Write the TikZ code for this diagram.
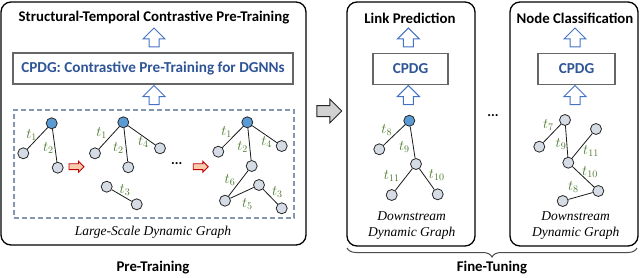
\documentclass[tikz,border=0pt]{standalone}
\usepackage{fontspec}
\setmainfont{Liberation Serif}
\setsansfont{Carlito}
\usetikzlibrary{shapes.arrows, positioning, decorations.pathreplacing}

\definecolor{nodeblue}{HTML}{5B9BD5}
\definecolor{nodegray}{HTML}{D6DCE5}
\definecolor{labgreen}{HTML}{4A7A2C}
\definecolor{cpdgblue}{HTML}{2F5597}
\definecolor{arrowblue}{HTML}{4472C4}
\definecolor{dashblue}{HTML}{8497B0}
\definecolor{redfill}{HTML}{F8CBAD}
\definecolor{redline}{HTML}{C00000}

\tikzset{
  panel/.style={draw=black, line width=1.3pt, rounded corners=10pt},
  model/.style={draw=black!60, line width=1.1pt, minimum height=31pt,
                font=\fontsize{15.2}{16}\selectfont\sffamily\bfseries, text=cpdgblue},
  heading/.style={font=\fontsize{14.8}{16}\selectfont\sffamily\bfseries},
  caption/.style={font=\fontsize{13.5}{16}\selectfont\itshape, align=center},
  dashbox/.style={draw=dashblue, line width=1.1pt, dash pattern=on 5pt off 3pt},
  uparrow/.style={single arrow, draw=arrowblue, fill=white, line width=1pt,
                  shape border rotate=90, inner sep=4.5pt,
                  single arrow head extend=6pt, minimum height=19pt},
  redarrow/.style={single arrow, draw=redline, fill=redfill, line width=0.9pt,
                   inner sep=2.5pt, single arrow head extend=2.5pt, minimum height=15pt},
  grayarrow/.style={single arrow, draw=black!85, fill=black!18, line width=1pt,
                    inner sep=5pt, single arrow head extend=6.5pt, minimum height=25pt},
  vtx/.style={circle, draw=black!85, fill=nodegray, line width=0.8pt,
              minimum size=11pt, inner sep=0pt},
  root/.style={vtx, fill=nodeblue},
  edge/.style={draw=black!90, line width=0.8pt},
  tlab/.style={text=labgreen, font=\fontsize{14}{14}\selectfont, inner sep=0pt},
  dots/.style={font=\fontsize{14}{14}\selectfont\sffamily\bfseries},
  brace/.style={decorate, decoration={brace, mirror, amplitude=9pt, aspect=0.5},
                draw=black!70, line width=1pt}
}

\begin{document}
\begin{tikzpicture}[x=1pt, y=-1pt]
  \useasboundingbox (0,0) rectangle (640,278);

  % pre-training panel
  \node[panel, minimum width=305pt, minimum height=243pt] (pt) at (153.5,123.5) {};
  \node[heading] (pttitle) at (154,18) {Structural-Temporal Contrastive Pre-Training};
  \node[uparrow] (pta1) at (154,40) {};
  \node[model, minimum width=280pt] (ptmodel) at (153,68.5) {CPDG: Contrastive Pre-Training for DGNNs};
  \node[uparrow] (pta2) at (154,97.5) {};
  \node[dashbox, minimum width=280pt, minimum height=108pt] (dyn) at (154,164) {};
  \node[caption] (dyncap) at (153,232) {Large-Scale Dynamic Graph};
  \node[heading] (ptlab) at (153,268) {Pre-Training};

  % snapshot 1
  \node[root] (a1) at (51.7,123.3) {};
  \node[vtx] (a2) at (23.3,153.3) {};
  \node[vtx] (a3) at (57.7,167.7) {};
  \draw[edge] (a1) -- (a2);
  \draw[edge] (a1) -- (a3);
  \node[tlab] (la1) at (31.7,135) {$t_1$};
  \node[tlab] (la2) at (48.3,148.3) {$t_2$};
  \node[redarrow] (r1) at (75,166.7) {};

  % snapshot 2
  \node[root] (b1) at (123.3,122.3) {};
  \node[vtx] (b2) at (95,153.3) {};
  \node[vtx] (b3) at (128.3,167.3) {};
  \node[vtx] (b4) at (160,148.3) {};
  \node[vtx] (b5) at (106.7,186.7) {};
  \node[vtx] (b6) at (136.7,204.3) {};
  \draw[edge] (b1) -- (b2);
  \draw[edge] (b1) -- (b3);
  \draw[edge] (b1) -- (b4);
  \draw[edge] (b5) -- (b6);
  \node[tlab] (lb1) at (101.7,133.3) {$t_1$};
  \node[tlab] (lb2) at (118.3,148.3) {$t_2$};
  \node[tlab] (lb4) at (143.3,141.7) {$t_4$};
  \node[tlab] (lb3) at (125,190) {$t_3$};
  \node[dots] (ptdots) at (176.7,164) {...};
  \node[redarrow] (r2) at (199.3,166.7) {};

  % snapshot 3
  \node[root] (c1) at (247.3,122.3) {};
  \node[vtx] (c2) at (218.3,151.7) {};
  \node[vtx] (c3) at (251.7,166) {};
  \node[vtx] (c4) at (281.7,146) {};
  \node[vtx] (c5) at (225,200.7) {};
  \node[vtx] (c6) at (259,185) {};
  \node[vtx] (c7) at (281.7,208.3) {};
  \draw[edge] (c1) -- (c2);
  \draw[edge] (c1) -- (c3);
  \draw[edge] (c1) -- (c4);
  \draw[edge] (c3) -- (c5);
  \draw[edge] (c5) -- (c6);
  \draw[edge] (c6) -- (c7);
  \node[tlab] (lc1) at (226.7,131.7) {$t_1$};
  \node[tlab] (lc2) at (242.7,146.7) {$t_2$};
  \node[tlab] (lc4) at (266.7,141.7) {$t_4$};
  \node[tlab] (lc6) at (230,180) {$t_6$};
  \node[tlab] (lc5) at (247.3,204) {$t_5$};
  \node[tlab] (lc3) at (277.3,192.3) {$t_3$};

  \node[grayarrow] (go) at (326.5,111) {};

  % link prediction panel
  \node[panel, minimum width=128pt, minimum height=244pt] (lp) at (411,124) {};
  \node[heading] (lptitle) at (410,18) {Link Prediction};
  \node[uparrow] (lpa1) at (408.3,40) {};
  \node[model, minimum width=75pt] (lpmodel) at (410.5,69) {CPDG};
  \node[uparrow] (lpa2) at (408.3,97.5) {};
  \node[root] (d1) at (409.3,120.7) {};
  \node[vtx] (d2) at (379.3,149.3) {};
  \node[vtx] (d3) at (416,164) {};
  \node[vtx] (d4) at (391.7,195) {};
  \node[vtx] (d5) at (437.7,194.3) {};
  \draw[edge] (d1) -- (d2);
  \draw[edge] (d1) -- (d3);
  \draw[edge] (d3) -- (d4);
  \draw[edge] (d3) -- (d5);
  \node[tlab] (ld8) at (386.7,130) {$t_8$};
  \node[tlab] (ld9) at (404.3,146.7) {$t_9$};
  \node[tlab] (ld11) at (391.7,176) {$t_{11}$};
  \node[tlab] (ld10) at (436.7,175) {$t_{10}$};
  \node[caption] (lpcap) at (411.7,226) {Downstream\\Dynamic Graph};

  \node[dots] (ftdots) at (493,116) {...};

  % node classification panel
  \node[panel, minimum width=128pt, minimum height=244pt] (nc) at (574,124) {};
  \node[heading] (nctitle) at (575,18) {Node Classification};
  \node[uparrow] (nca1) at (575,40) {};
  \node[model, minimum width=77pt] (ncmodel) at (576.5,69) {CPDG};
  \node[uparrow] (nca2) at (575,97.5) {};
  \node[vtx] (e1) at (565,120) {};
  \node[vtx] (e2) at (539.3,146.7) {};
  \node[vtx] (e3) at (596,129) {};
  \node[vtx] (e4) at (568.3,162.7) {};
  \node[vtx] (e5) at (598.3,191) {};
  \node[vtx] (e6) at (562.7,201) {};
  \draw[edge] (e1) -- (e2);
  \draw[edge] (e1) -- (e4);
  \draw[edge] (e3) -- (e4);
  \draw[edge] (e4) -- (e5);
  \draw[edge] (e5) -- (e6);
  \node[tlab] (le7) at (548.3,125) {$t_7$};
  \node[tlab] (le9) at (561,144.3) {$t_9$};
  \node[tlab] (le11) at (591,151) {$t_{11}$};
  \node[tlab] (le10) at (590,171.7) {$t_{10}$};
  \node[tlab] (le8) at (573.3,186.7) {$t_8$};
  \node[caption] (nccap) at (575.7,226) {Downstream\\Dynamic Graph};

  % fine-tuning brace
  \coordinate (ftl) at (347,248);
  \coordinate (ftr) at (637,248);
  \draw[brace] (ftl) -- (ftr);
  \node[heading] (ftlab) at (492,268) {Fine-Tuning};
\end{tikzpicture}
\end{document}
